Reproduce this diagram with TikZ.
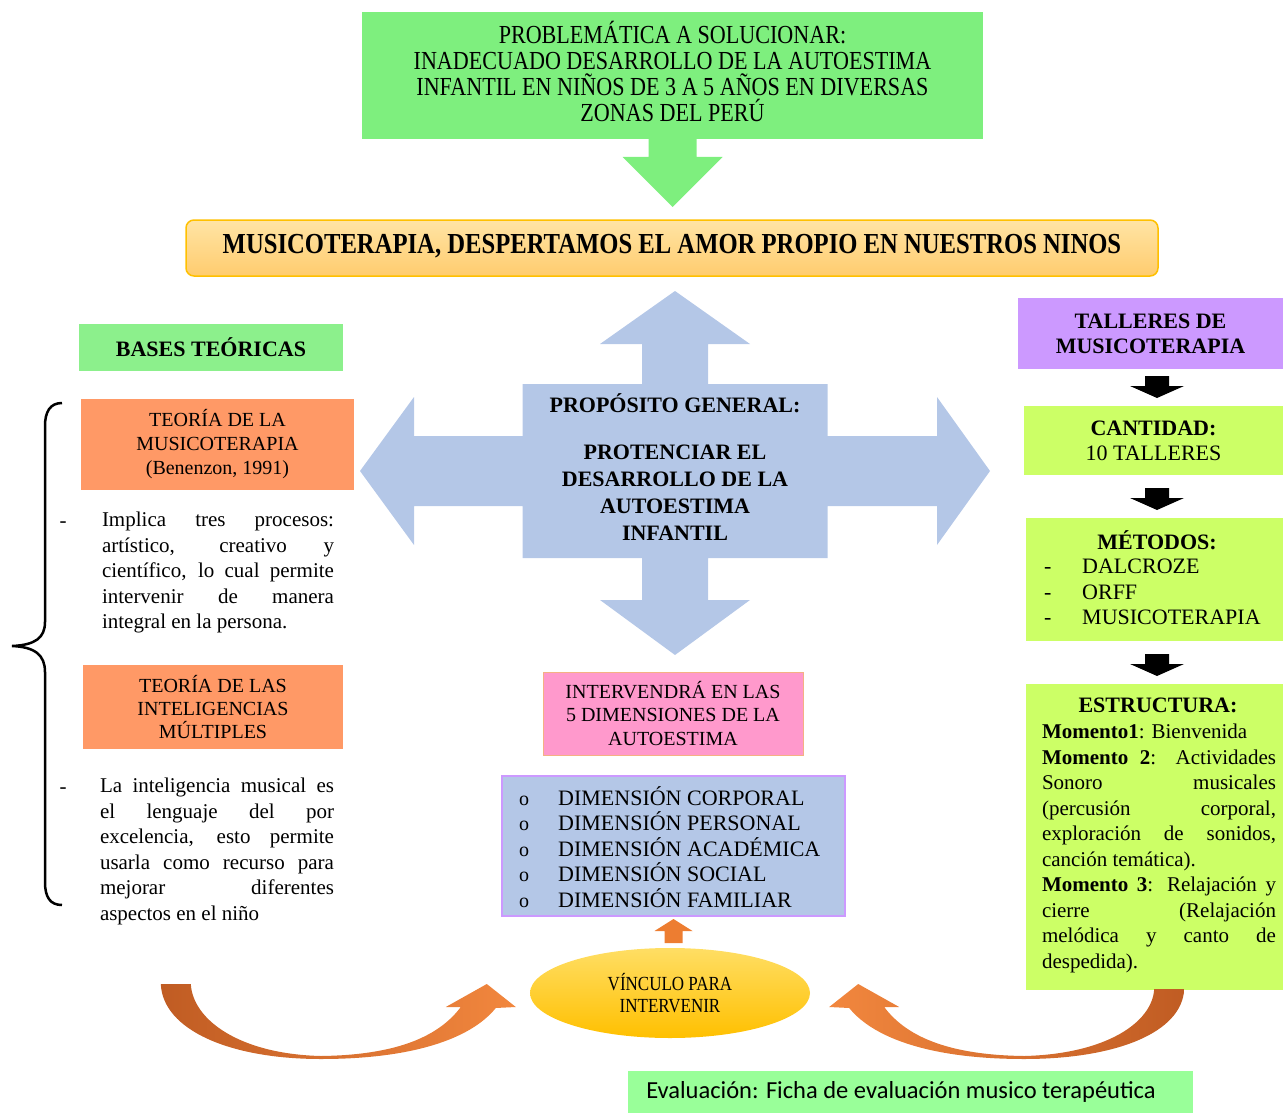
\documentclass[tikz,border=0pt]{standalone}
\usepackage{fontspec}
\setmainfont{Liberation Serif}
\newfontfamily\condfont[FakeStretch=0.85]{Liberation Serif}
\newfontfamily\califont{Carlito}
\usetikzlibrary{calc,shapes.geometric}
\tolerance=9999 \hbadness=10000 \hyphenpenalty=10000
\definecolor{topgreen}{RGB}{126,239,126}
\definecolor{basegreen}{RGB}{140,240,140}
\definecolor{salmon}{RGB}{255,153,102}
\definecolor{lav}{RGB}{204,153,255}
\definecolor{limebox}{RGB}{204,255,102}
\definecolor{pinkbox}{RGB}{255,153,204}
\definecolor{pinkline}{RGB}{244,177,131}
\definecolor{crossblue}{RGB}{180,199,231}
\definecolor{evalgreen}{RGB}{153,255,153}
\definecolor{goldc}{RGB}{255,192,0}
\definecolor{barlight}{RGB}{255,228,165}
\definecolor{barmid}{RGB}{255,204,110}
\definecolor{orgdark}{RGB}{192,92,35}
\definecolor{orglight}{RGB}{242,135,62}
\definecolor{orgsmall}{RGB}{237,125,49}
\definecolor{elltop}{RGB}{255,222,100}
\newcommand\fs[2]{\fontsize{#1}{#2}\selectfont}
\newcommand\bulo{\makebox[39pt][l]{\fs{20}{20}o}}
\newcommand\dsh{\makebox[38pt][l]{-}}
\begin{document}
\begin{tikzpicture}[x=1pt,y=-1pt,
  box/.style={rectangle, inner sep=0pt, outer sep=0pt, align=center},
  para/.style={inner sep=0pt, outer sep=0pt, align=justify, font=\fs{21}{25.5}},
  blk/.style={fill=black}]
\useasboundingbox (0,0) rectangle (1283,1113);

% top problem box
\node[box, fill=topgreen, minimum width=621pt, minimum height=127pt] (prob) at (672.5,75.5) {};
\node[align=center, inner sep=0pt, font=\condfont\fs{26}{25.7}] (probtxt) at (672.5,71.5)
  {PROBLEMÁTICA A SOLUCIONAR:\\ INADECUADO DESARROLLO DE LA AUTOESTIMA\\ INFANTIL EN NIÑOS DE 3 A 5 AÑOS EN DIVERSAS\\ ZONAS DEL PERÚ};
\begin{scope}[shift={(prob.south)}]
  \fill[topgreen] (-24,-1) -- (24,-1) -- (24,18) -- (50,18) -- (0,68) -- (-50,18) -- (-24,18) -- cycle;
\end{scope}

% title bar
\node[box, rounded corners=8pt, draw=goldc, line width=1.5pt, top color=barlight, bottom color=barmid,
  minimum width=972pt, minimum height=56pt, font=\condfont\bfseries\fs{29}{30}] (bar) at (672,248)
  {\raisebox{9pt}{MUSICOTERAPIA, DESPERTAMOS EL AMOR PROPIO EN NUESTROS NINOS}};

% left column
\node[box, fill=basegreen, minimum width=264pt, minimum height=47pt, font=\bfseries\fs{22}{24}] (bases) at (211,347.5) {BASES TEÓRICAS};
\node[box, fill=salmon, minimum width=273pt, minimum height=91pt, font=\fs{20}{24}] (teo1) at (217.5,444.5)
  {TEORÍA DE LA\\ MUSICOTERAPIA\\ (Benenzon, 1991)};
\node[font=\fs{21}{25}] (d1) at (63,525) {-};
\node[para, text width=232pt, anchor=north west] (p1) at (102,512)
  {Implica tres procesos:\linebreak artístico, creativo y\linebreak científico, lo cual permite\linebreak intervenir de manera\linebreak integral en la persona.};
\node[box, fill=salmon, minimum width=260pt, minimum height=84pt, font=\fs{20}{23}] (teo2) at (213,707)
  {TEORÍA DE LAS\\ INTELIGENCIAS\\ MÚLTIPLES};
\node[font=\fs{21}{25}] (d2) at (63,791) {-};
\node[para, text width=234pt, anchor=north west] (p2) at (100,778)
  {La inteligencia musical es\linebreak el lenguaje del por\linebreak excelencia, esto permite\linebreak usarla como recurso para\linebreak mejorar diferentes\linebreak aspectos en el niño};
\draw[line width=2.5pt] (62,403) .. controls (50,403) and (45,412) .. (45,426) -- (45,622)
  .. controls (45,638) and (35,645) .. (12,646) .. controls (35,647) and (45,655) .. (45,672)
  -- (45,882) .. controls (45,897) and (50,905) .. (62,905);

% central cross
\coordinate (pc) at (675,471);
\begin{scope}[shift={(pc)}]
\fill[crossblue] (-152.5,-87) -- (-33,-87) -- (-33,-127) -- (-75,-127) -- (0,-180) -- (75,-127) -- (33,-127) -- (33,-87)
  -- (152.5,-87) -- (152.5,-35) -- (262,-35) -- (262,-74) -- (315,0) -- (262,74) -- (262,35) -- (152.5,35)
  -- (152.5,87) -- (33,87) -- (33,129) -- (75,129) -- (0,184) -- (-75,129) -- (-33,129) -- (-33,87)
  -- (-152.5,87) -- (-152.5,35) -- (-261,35) -- (-261,74) -- (-315,0) -- (-261,-74) -- (-261,-35) -- (-152.5,-35) -- cycle;
\end{scope}
\node[align=center, font=\bfseries\fs{22}{27}] (prop) at (675,467)
  {PROPÓSITO GENERAL:\\[20pt] PROTENCIAR EL\\ DESARROLLO DE LA\\ AUTOESTIMA\\ INFANTIL};

% center lower
\node[box, fill=pinkbox, draw=pinkline, line width=1pt, minimum width=260pt, minimum height=83pt, font=\fs{20}{23.5}] (interv) at (673,713.5)
  {INTERVENDRÁ EN LAS\\ 5 DIMENSIONES DE LA\\ AUTOESTIMA};
\node[box, fill=crossblue, draw=lav, line width=1.5pt, minimum width=343pt, minimum height=140pt] (dims) at (673.5,846) {};
\node[anchor=west, align=left, inner sep=0pt, font=\fs{22}{25.5}] (dimtxt) at (519,847)
  {\bulo DIMENSIÓN CORPORAL\\ \bulo DIMENSIÓN PERSONAL\\ \bulo DIMENSIÓN ACADÉMICA\\ \bulo DIMENSIÓN SOCIAL\\ \bulo DIMENSIÓN FAMILIAR};
\begin{scope}[shift={(dims.south)}]
  \fill[orgsmall] (0,3) -- (19,15) -- (9,15) -- (9,27) -- (-9,27) -- (-9,15) -- (-19,15) -- cycle;
\end{scope}

\node[ellipse, minimum width=280pt, minimum height=90pt, inner sep=0pt, top color=elltop, bottom color=goldc,
  align=center, font=\condfont\fs{20}{22}] (vinc) at (670,993) {VÍNCULO PARA\\ INTERVENIR};

% right column
\node[box, fill=lav, minimum width=265pt, minimum height=71pt, font=\bfseries\fs{22}{25}] (tall) at (1150.5,333.5) {TALLERES DE\\ MUSICOTERAPIA};
\node[box, fill=limebox, minimum width=259pt, minimum height=69pt, font=\fs{22}{25}] (cant) at (1153.5,440.5) {\textbf{CANTIDAD:}\\ 10 TALLERES};
\node[box, fill=limebox, minimum width=257pt, minimum height=123pt] (met) at (1154.5,579.5) {};
\node[font=\bfseries\fs{22}{25}] (mettit) at (1157,540) {MÉTODOS:};
\node[anchor=west, align=left, inner sep=0pt, font=\fs{22}{25.5}] (metlist) at (1044,592)
  {\dsh DALCROZE\\ \dsh ORFF\\ \dsh MUSICOTERAPIA};
\node[box, fill=limebox, minimum width=257pt, minimum height=306pt] (estr) at (1154.5,837) {};
\node[font=\bfseries\fs{22}{25}] (esttit) at (1158,705) {ESTRUCTURA:};
\node[para, text width=234pt, anchor=north west] (estp) at (1042,724)
  {\textbf{Momento1}: Bienvenida\par \textbf{Momento 2}: Actividades\linebreak Sonoro musicales\linebreak (percusión corporal,\linebreak exploración de sonidos,\linebreak canción temática).\par \textbf{Momento 3}: Relajación y\linebreak cierre (Relajación\linebreak melódica y canto de\linebreak despedida).};

\begin{scope}[shift={($(tall.south)+(6.5,7)$)}]
  \fill[blk] (-12,0) -- (12,0) -- (12,10) -- (27,10) -- (0,22) -- (-27,10) -- (-12,10) -- cycle;
\end{scope}
\begin{scope}[shift={($(cant.south)+(3.5,13)$)}]
  \fill[blk] (-12,0) -- (12,0) -- (12,10) -- (27,10) -- (0,22) -- (-27,10) -- (-12,10) -- cycle;
\end{scope}
\begin{scope}[shift={($(met.south)+(2.5,13)$)}]
  \fill[blk] (-12,0) -- (12,0) -- (12,10) -- (27,10) -- (0,22) -- (-27,10) -- (-12,10) -- cycle;
\end{scope}

% curved up arrows towards the ellipse
\begin{scope}[shift={($(vinc.west)+(0,2)$)}]
  \shade[left color=orgdark, right color=orglight]
    (-369,-11) .. controls (-367,35) and (-300,64) .. (-209,64) .. controls (-120,64) and (-60,45) .. (-34,13)
    -- (-14,12) -- (-43,-11) -- (-84,12) -- (-69,12)
    .. controls (-90,40) and (-130,60) .. (-209,61) .. controls (-290,59) and (-337,25) .. (-339,-11) -- cycle;
\end{scope}
\begin{scope}[shift={($(vinc.east)+(0,2)$)}]
  \shade[left color=orglight, right color=orgdark]
    (374,-6) .. controls (372,38) and (305,64) .. (214,64) .. controls (125,64) and (65,45) .. (39,13)
    -- (19,12) -- (48,-11) -- (89,12) -- (74,12)
    .. controls (95,40) and (135,60) .. (214,61) .. controls (295,59) and (342,28) .. (344,-6) -- cycle;
\end{scope}

\node[box, fill=evalgreen, minimum width=565pt, minimum height=42pt] (eval) at (910.5,1092) {};
\node[inner sep=0pt, font=\califont\fs{24.5}{26}] (evaltxt) at (901,1092)
  {Evaluación: Ficha de evaluación musico terapéutica};
\end{tikzpicture}
\end{document}
